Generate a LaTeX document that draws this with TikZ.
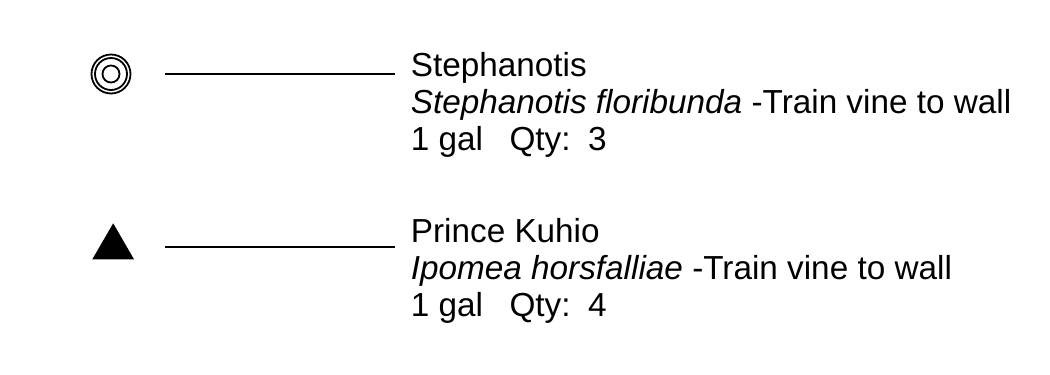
\documentclass[tikz,border=0pt]{standalone}
\usepackage{fontspec}
\setmainfont{Liberation Sans}
\begin{document}
\begin{tikzpicture}[x=1bp,y=-1bp,line width=1.8bp,color=black,
	plant/.style={inner sep=0pt,anchor=base west,font=\fontsize{33.3bp}{37bp}\selectfont}]
		\useasboundingbox (0,0) rectangle (1050,374);
		% symbols
		\coordinate (c1) at (111,74);
		\draw (c1) circle (19.5) (c1) circle (16) (c1) circle (8.5);
		\fill (92.3,259.3)--(134,259.3)--(113.2,223.3)--cycle;
		% leader lines
		\coordinate (a1) at (165,74.3);
		\coordinate (b1) at (395,74.3);
		\coordinate (a2) at (165,247.3);
		\coordinate (b2) at (395,247.3);
		\draw (a1)--(b1) (a2)--(b2);
		% labels
		\node[plant] (steph) at (410,76) {Stephanotis};
		\node[plant] (stephbot) at (410,113) {\textit{Stephanotis floribunda} -Train vine to wall};
		\node[plant] (stephqty) at (410,150) {1 gal\hspace{26.5bp}Qty:\hspace{17.5bp}3};
		\node[plant] (kuhio) at (410,242) {Prince Kuhio};
		\node[plant] (kuhiobot) at (410,279) {\textit{Ipomea horsfalliae} -Train vine to wall};
		\node[plant] (kuhioqty) at (410,316) {1 gal\hspace{26.5bp}Qty:\hspace{17.5bp}4};
		\end{tikzpicture}
\end{document}
